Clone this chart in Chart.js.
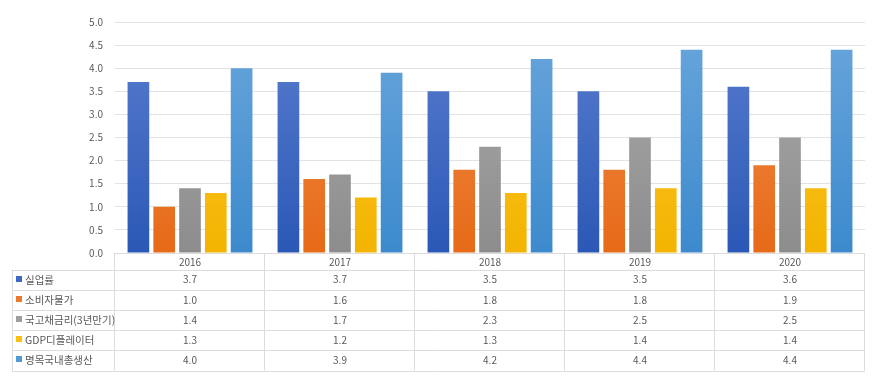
<!DOCTYPE html>
<html>
<head>
<meta charset="utf-8">
<script src="https://cdn.jsdelivr.net/npm/chart.js@4/dist/chart.umd.min.js"></script>
<style>
html,body{margin:0;padding:0;background:#fff;}
#wrap{position:relative;width:875px;height:390px;}
</style>
</head>
<body>
<div id="wrap"><canvas id="c" width="875" height="390"></canvas></div>
<script>
const categories = ['2016', '2017', '2018', '2019', '2020'];
const seriesNames = ['실업률', '소비자물가', '국고채금리(3년만기)', 'GDP디플레이터', '명목국내총생산'];
const unemployment = [3.7, 3.7, 3.5, 3.5, 3.6];
const consumerPrices = [1.0, 1.6, 1.8, 1.8, 1.9];
const treasuryRate = [1.4, 1.7, 2.3, 2.5, 2.5];
const gdpDeflator = [1.3, 1.2, 1.3, 1.4, 1.4];
const nominalGdp = [4.0, 3.9, 4.2, 4.4, 4.4];
const yTicks = [0, 0.5, 1, 1.5, 2, 2.5, 3, 3.5, 4, 4.5, 5];

const seriesValues = [unemployment, consumerPrices, treasuryRate, gdpDeflator, nominalGdp];
const solidColors = ['#3f68c2', '#ec7a2e', '#9e9e9e', '#fbbf10', '#529ad6'];
const gradStops = [
  ['#5a7ecf', '#2b58b6'],
  ['#f28e4e', '#e66a17'],
  ['#adadad', '#8c8c8c'],
  ['#ffc933', '#f3b400'],
  ['#6aa6dc', '#3c8acd']
];

function makeGradient(i) {
  return function(ctx) {
    const chart = ctx.chart;
    const area = chart.chartArea;
    if (!area) return solidColors[i];
    const g = chart.ctx.createLinearGradient(0, area.top, 0, area.bottom);
    g.addColorStop(0, gradStops[i][0]);
    g.addColorStop(1, gradStops[i][1]);
    return g;
  };
}

const TABLE_TOP = 253;
const HEADER_H = 16.5;
const ROW_H = 20.2;
const LEFT_X = 12;
const textColor = '#595959';
const lineColor = '#dcdcdc';
const fontFam = '"Noto Sans CJK KR", "Noto Sans", sans-serif';

const tablePlugin = {
  id: 'dataTable',
  afterDraw(chart) {
    const ctx = chart.ctx;
    const xs = chart.scales.x;
    const area = chart.chartArea;
    const n = categories.length;
    const colW = (area.right - area.left) / n;
    const top = TABLE_TOP;
    const headBottom = top + HEADER_H;
    const bottom = headBottom + ROW_H * seriesNames.length;
    ctx.save();
    ctx.strokeStyle = lineColor;
    ctx.lineWidth = 1;
    ctx.beginPath();
    // header top line
    ctx.moveTo(area.left, top + 0.5); ctx.lineTo(area.right, top + 0.5);
    // row lines
    for (let r = 0; r <= seriesNames.length; r++) {
      const y = Math.round(headBottom + r * ROW_H) + 0.5;
      ctx.moveTo(LEFT_X, y); ctx.lineTo(area.right, y);
    }
    // vertical lines
    ctx.moveTo(LEFT_X + 0.5, headBottom); ctx.lineTo(LEFT_X + 0.5, bottom);
    for (let c = 0; c <= n; c++) {
      const x = Math.round(area.left + c * colW) - 0.5;
      ctx.moveTo(x, top); ctx.lineTo(x, bottom);
    }
    ctx.stroke();

    ctx.fillStyle = textColor;
    ctx.font = '10px ' + fontFam;
    ctx.textAlign = 'center';
    ctx.textBaseline = 'middle';
    categories.forEach((cat, i) => {
      const x = xs.getPixelForValue(i);
      ctx.fillText(cat, x, top + HEADER_H / 2 + 1);
    });
    seriesNames.forEach((name, r) => {
      const yc = headBottom + r * ROW_H + ROW_H / 2;
      ctx.fillStyle = solidColors[r];
      ctx.fillRect(16, Math.round(yc) - 4, 6, 6);
      ctx.fillStyle = textColor;
      ctx.textAlign = 'left';
      ctx.font = '10.5px ' + fontFam;
      ctx.fillText(name, 25, yc);
      ctx.textAlign = 'center';
      ctx.font = '10px ' + fontFam;
      seriesValues[r].forEach((v, i) => {
        ctx.fillText(v.toFixed(1), xs.getPixelForValue(i), yc);
      });
    });
    ctx.restore();
  }
};

new Chart(document.getElementById('c'), {
  type: 'bar',
  data: {
    labels: categories,
    datasets: seriesNames.map((name, i) => ({
      label: name,
      data: seriesValues[i],
      backgroundColor: makeGradient(i),
      borderWidth: 0,
      categoryPercentage: 0.86,
      barPercentage: 0.84
    }))
  },
  options: {
    responsive: false,
    animation: false,
    devicePixelRatio: 1,
    layout: { padding: { top: 22, right: 10, bottom: 137, left: 0 } },
    plugins: { legend: { display: false }, tooltip: { enabled: false } },
    scales: {
      x: { display: false },
      y: {
        min: 0, max: 5,
        afterFit(s) { s.width = 115; },
        afterBuildTicks(s) { s.ticks = yTicks.map(v => ({ value: v })); },
        border: { display: false },
        grid: { color: '#e3e3e3', drawTicks: false, lineWidth: 1 },
        ticks: {
          padding: 12,
          color: textColor,
          font: { family: fontFam, size: 10 },
          callback: v => Number(v).toFixed(1)
        }
      }
    }
  },
  plugins: [tablePlugin]
});
</script>
</body>
</html>
